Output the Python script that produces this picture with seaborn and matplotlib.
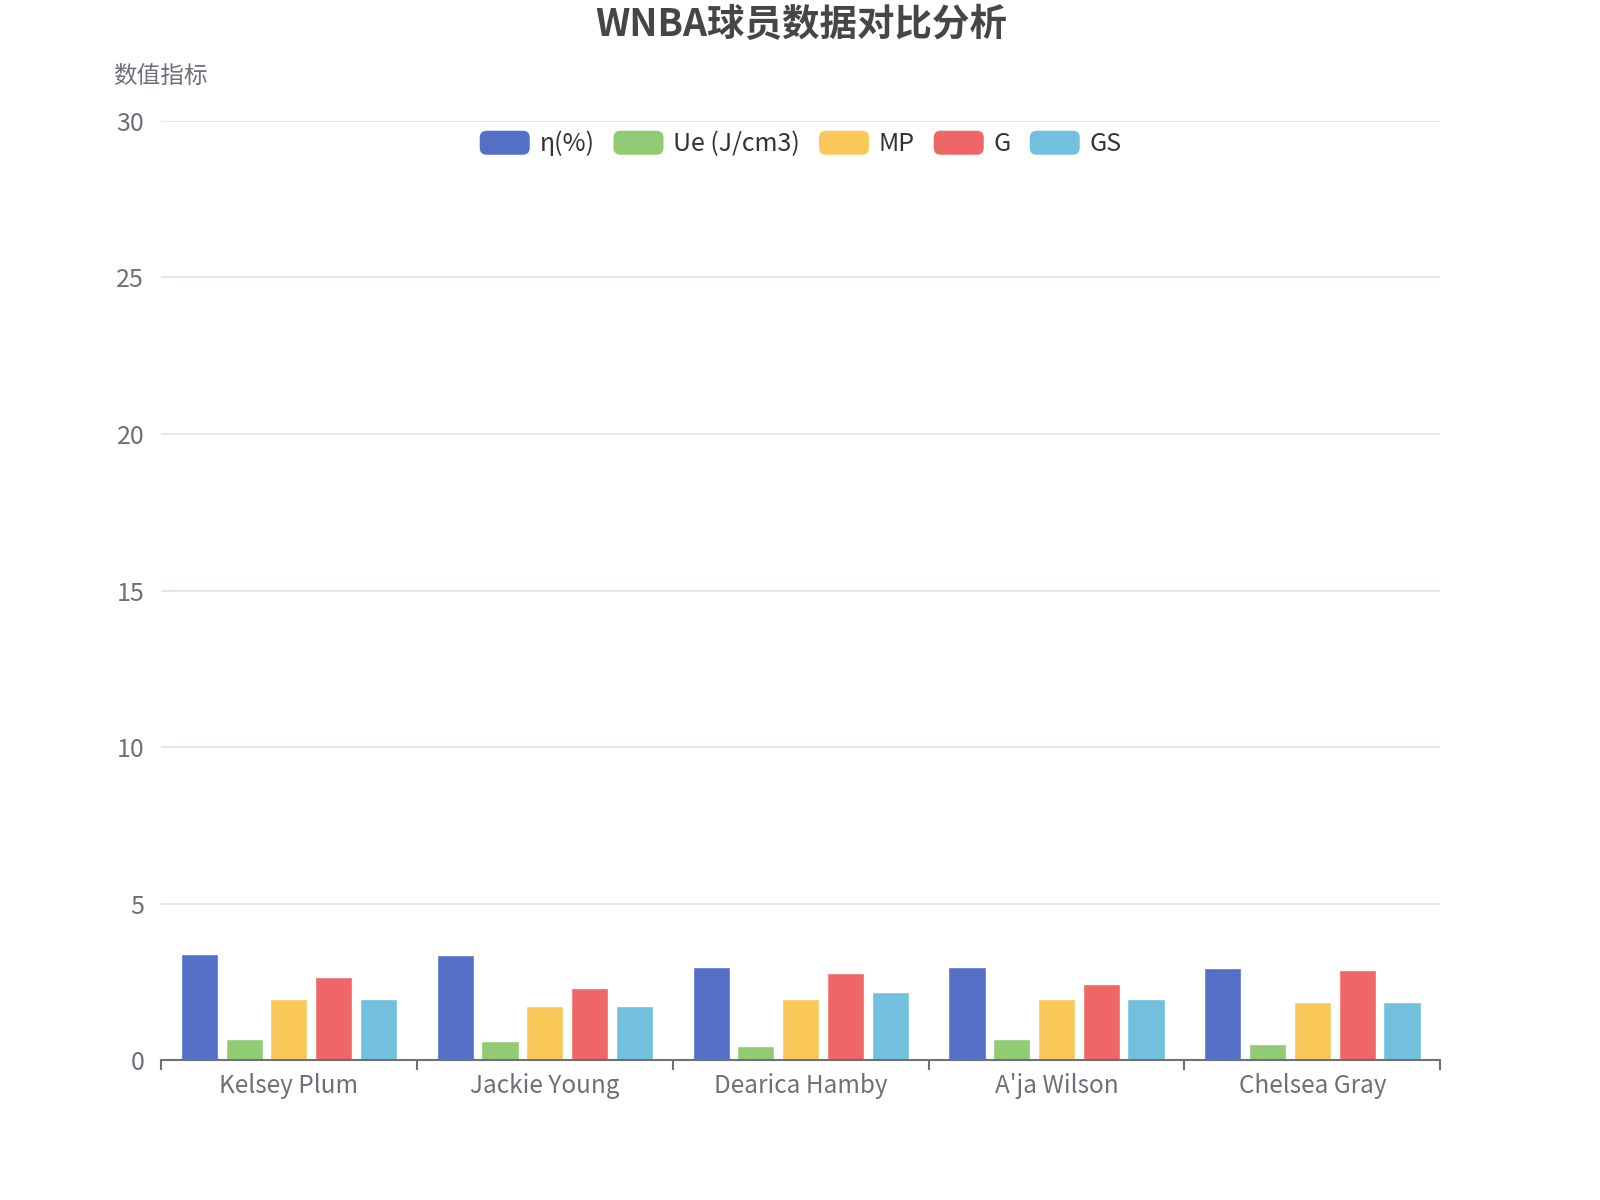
import matplotlib
matplotlib.use('Agg')
import matplotlib.pyplot as plt
import seaborn as sns
import pandas as pd
from matplotlib.patches import FancyBboxPatch, Patch
from matplotlib.legend_handler import HandlerPatch

# data
players = ['Kelsey Plum', 'Jackie Young', 'Dearica Hamby', "A'ja Wilson", 'Chelsea Gray']
series = ['η(%)', 'Ue (J/cm3)', 'MP', 'G', 'GS']
eta = [3.39, 3.35, 2.97, 2.97, 2.95]
ue = [0.67, 0.61, 0.47, 0.67, 0.51]
mp = [1.96, 1.73, 1.96, 1.96, 1.85]
g = [2.65, 2.31, 2.78, 2.43, 2.88]
gs = [1.96, 1.73, 2.19, 1.96, 1.85]
colors = ['#5470c6', '#91cc75', '#fac858', '#ee6666', '#73c0de']
y_ticks = [0, 5, 10, 15, 20, 25, 30]

rows = []
for name, vals in zip(series, [eta, ue, mp, g, gs]):
    for p, v in zip(players, vals):
        rows.append({'player': p, 'series': name, 'value': v})
df = pd.DataFrame(rows)

sns.set_theme(style='white')
plt.rcParams['font.family'] = ['Noto Sans CJK SC', 'DejaVu Sans']

fig = plt.figure(figsize=(16, 12), dpi=100)
ax = fig.add_axes([0.1006, 0.1164, 0.7996, 0.783])

sns.barplot(data=df, x='player', y='value', hue='series', order=players,
            hue_order=series, palette=colors, width=0.875, gap=0.17,
            saturation=1, ax=ax, legend=False)

ax.set_ylim(0, 30)
ax.set_xlim(-0.5, len(players) - 0.5)
ax.set_yticks(y_ticks)
ax.set_xlabel('')
ax.set_ylabel('')
ax.grid(axis='y', color='#E0E6F1', linewidth=1.4)
ax.set_axisbelow(True)
for s in ['left', 'right', 'top']:
    ax.spines[s].set_visible(False)
ax.spines['bottom'].set_color('#6E7079')
ax.spines['bottom'].set_linewidth(1.5)

# ticks at category boundaries, labels at centers
ax.set_xticks([i - 0.5 for i in range(len(players) + 1)], minor=True)
ax.tick_params(axis='x', which='minor', bottom=True, length=7, width=1.5,
               color='#6E7079', direction='out')
ax.tick_params(axis='x', which='major', bottom=True, length=0, pad=9,
               labelsize=17.5, labelcolor='#6E7079')
ax.tick_params(axis='y', length=0, pad=12, labelsize=18, labelcolor='#6E7079')

# legend with rounded swatches
class RoundHandler(HandlerPatch):
    def create_artists(self, legend, orig_handle, xdescent, ydescent, width, height, fontsize, trans):
        p = FancyBboxPatch((-xdescent, -ydescent), width, height,
                           boxstyle='round,pad=0,rounding_size=5',
                           facecolor=orig_handle.get_facecolor(), edgecolor='none',
                           transform=trans)
        return [p]

handles = [Patch(facecolor=c, label=s) for c, s in zip(colors, series)]
fig.legend(handles=handles, loc='center', bbox_to_anchor=(0.5005, 0.880), ncol=5,
           frameon=False, fontsize=18, handlelength=2.0, handleheight=1.1,
           handletextpad=0.4, columnspacing=0.75, labelcolor='#333333',
           handler_map={Patch: RoundHandler()})

fig.text(0.5005, 0.9795, 'WNBA球员数据对比分析', ha='center', va='center',
         fontsize=27, fontweight='bold', color='#464646')
fig.text(0.0706, 0.936, '数值指标', ha='left', va='center', fontsize=17, color='#6E7079')

fig.savefig('out.png', dpi=100)
